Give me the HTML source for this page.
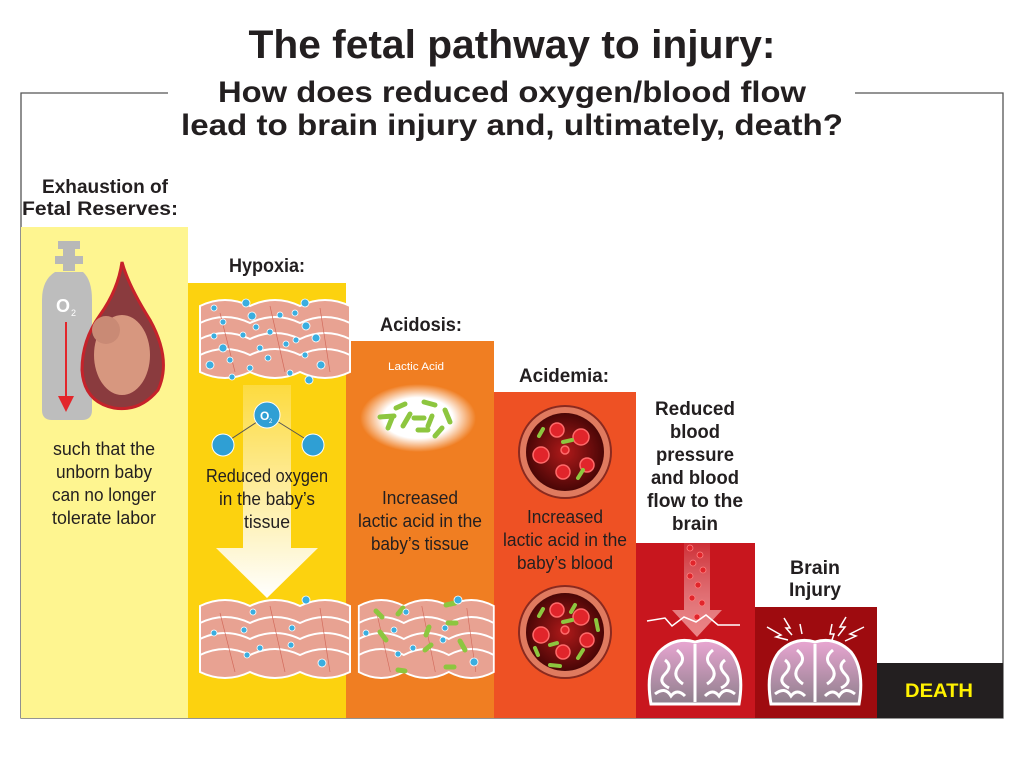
<!DOCTYPE html>
<html><head><meta charset="utf-8"><style>
html,body{margin:0;padding:0;background:#fff;width:1024px;height:768px;overflow:hidden}
svg{display:block}
text{font-family:"Liberation Sans Narrow","Liberation Sans",sans-serif;fill:#231f20}
.b{font-weight:bold}
</style></head><body>
<svg width="1024" height="768" viewBox="0 0 1024 768" xmlns="http://www.w3.org/2000/svg">
<defs>
<radialGradient id="glow" cx="50%" cy="50%" r="50%"><stop offset="0.6" stop-color="#fff"/><stop offset="1" stop-color="#fff" stop-opacity="0"/></radialGradient>
<linearGradient id="arr" x1="0" y1="0" x2="0" y2="1"><stop offset="0" stop-color="#fff" stop-opacity="0.2"/><stop offset="1" stop-color="#fff"/></linearGradient>
<linearGradient id="arr2" x1="0" y1="0" x2="0" y2="1"><stop offset="0" stop-color="#fff" stop-opacity="0.1"/><stop offset="1" stop-color="#f4a0a0" stop-opacity="0.8"/></linearGradient>
<linearGradient id="bg" x1="0" y1="0" x2="0" y2="1"><stop offset="0" stop-color="#e9a6d2"/><stop offset="1" stop-color="#8e7f8c"/></linearGradient>
<radialGradient id="vessel" cx="50%" cy="50%" r="50%"><stop offset="0" stop-color="#b01a1a"/><stop offset="1" stop-color="#4a0606"/></radialGradient>
<g id="tissue">
<path d="M0,8 Q25,-4 50,8 Q75,-4 100,8 Q125,-4 150,8 L150,74 Q125,86 100,74 Q75,86 50,74 Q25,86 0,74 Z" fill="#e8a292" stroke="#fff" stroke-width="2"/>
<path d="M0,25 Q25,13 50,25 Q75,13 100,25 Q125,13 150,25 M0,41 Q25,29 50,41 Q75,29 100,41 Q125,29 150,41 M0,57 Q25,45 50,57 Q75,45 100,57 Q125,45 150,57" fill="none" stroke="#fff" stroke-width="2"/>
<path d="M20,15 L35,74 M70,8 L85,74 M120,10 L130,74" stroke="#d26b5c" stroke-width="0.7"/>
</g>
<g id="brain">
<path d="M-44,32 Q-50,-2 -36,-20 Q-20,-36 0,-30 Q20,-36 36,-20 Q50,-2 44,32 Z" fill="url(#bg)" stroke="#fff" stroke-width="3"/>
<path d="M0,-28 L0,30 M-30,-12 q8,6 0,14 q-8,8 4,14 M-18,-22 q10,8 2,16 q-8,10 4,18 M18,-22 q-10,8 -2,16 q8,10 -4,18 M30,-12 q-8,6 0,14 q8,8 -4,14 M-40,22 q10,-8 16,2 q6,-8 14,0 M40,22 q-10,-8 -16,2 q-6,-8 -14,0" fill="none" stroke="#fff" stroke-width="3"/>
</g>
</defs>

<path d="M168,93 H21 V718 H1003 V93 H855" fill="none" stroke="#555" stroke-width="1.3"/>

<rect x="21" y="227" width="167" height="491" fill="#fef590"/>
<rect x="188" y="283" width="158" height="435" fill="#fcd20f"/>
<rect x="346" y="341" width="148" height="377" fill="#f07e22"/>
<rect x="494" y="392" width="142" height="326" fill="#ee5124"/>
<rect x="636" y="543" width="119" height="175" fill="#c8161e"/>
<rect x="755" y="607" width="122" height="111" fill="#9e0b0f"/>
<rect x="877" y="663" width="126" height="55" fill="#231f20"/>

<text x="512" y="58" text-anchor="middle" class="b" font-size="40" textLength="527" lengthAdjust="spacingAndGlyphs">The fetal pathway to injury:</text>
<text x="512" y="102" text-anchor="middle" class="b" font-size="30" textLength="588" lengthAdjust="spacingAndGlyphs">How does reduced oxygen/blood flow</text>
<text x="512" y="135" text-anchor="middle" class="b" font-size="30" textLength="662" lengthAdjust="spacingAndGlyphs">lead to brain injury and, ultimately, death?</text>

<text x="105" y="193" text-anchor="middle" class="b" font-size="19" textLength="126" lengthAdjust="spacingAndGlyphs">Exhaustion of</text>
<text x="100" y="215" text-anchor="middle" class="b" font-size="19" textLength="156" lengthAdjust="spacingAndGlyphs">Fetal Reserves:</text>
<rect x="58" y="241" width="22" height="8" fill="#b8b8b8"/><rect x="63" y="249" width="12" height="22" fill="#b8b8b8"/><rect x="55" y="256" width="28" height="8" fill="#b8b8b8"/>
<path d="M55,272 H83 Q92,280 92,300 V410 Q92,420 82,420 H52 Q42,420 42,410 V300 Q42,280 55,272Z" fill="#bdbdbd"/>
<text x="56" y="312" font-size="18" class="b" style="fill:#fff">O</text><text x="71" y="316" font-size="9" style="fill:#fff">2</text>
<line x1="66" y1="322" x2="66" y2="398" stroke="#e3262b" stroke-width="2"/><path d="M58,396 H74 L66,412Z" fill="#e3262b"/>
<path d="M122,262 Q128,285 150,320 Q172,360 158,390 Q140,412 114,408 Q84,402 82,370 Q82,340 100,315 Q118,290 122,262Z" fill="#8a3b3e" stroke="#c6222a" stroke-width="3"/>
<ellipse cx="122" cy="355" rx="28" ry="40" fill="#d7977f"/>
<circle cx="106" cy="330" r="14" fill="#c98a75"/>
<text x="104" y="455" text-anchor="middle" font-size="18" textLength="102" lengthAdjust="spacingAndGlyphs">such that the</text>
<text x="104" y="478" text-anchor="middle" font-size="18" textLength="96" lengthAdjust="spacingAndGlyphs">unborn baby</text>
<text x="104" y="501" text-anchor="middle" font-size="18" textLength="104" lengthAdjust="spacingAndGlyphs">can no longer</text>
<text x="104" y="524" text-anchor="middle" font-size="18" textLength="104" lengthAdjust="spacingAndGlyphs">tolerate labor</text>

<text x="267" y="272" text-anchor="middle" class="b" font-size="19" textLength="76" lengthAdjust="spacingAndGlyphs">Hypoxia:</text>
<use href="#tissue" x="200" y="298"/>
<g fill="#3aaee0" stroke="#fff" stroke-width="0.8">
<circle cx="246" cy="303" r="4"/><circle cx="305" cy="303" r="4"/><circle cx="214" cy="308" r="3"/><circle cx="252" cy="316" r="4"/><circle cx="280" cy="315" r="3"/><circle cx="295" cy="313" r="3"/><circle cx="223" cy="322" r="3"/><circle cx="256" cy="327" r="3"/><circle cx="306" cy="326" r="4"/><circle cx="214" cy="336" r="3"/><circle cx="243" cy="335" r="3"/><circle cx="270" cy="332" r="3"/><circle cx="296" cy="340" r="3"/><circle cx="316" cy="338" r="4"/><circle cx="223" cy="348" r="4"/><circle cx="260" cy="348" r="3"/><circle cx="286" cy="344" r="3"/><circle cx="305" cy="355" r="3"/><circle cx="230" cy="360" r="3"/><circle cx="268" cy="358" r="3"/><circle cx="210" cy="365" r="4"/><circle cx="321" cy="365" r="4"/><circle cx="250" cy="368" r="3"/><circle cx="290" cy="373" r="3"/><circle cx="309" cy="380" r="4"/><circle cx="232" cy="377" r="3"/>
</g>
<path d="M243,385 H291 V548 H318 L267,598 L216,548 H243Z" fill="url(#arr)"/>
<line x1="225" y1="443" x2="263" y2="418" stroke="#555"/><line x1="312" y1="443" x2="272" y2="418" stroke="#555"/>
<circle cx="267" cy="415" r="13" fill="#2f9fd4" stroke="#fff"/><text x="260" y="420" font-size="12" class="b" style="fill:#fff">O</text><text x="269" y="423" font-size="6" style="fill:#fff">2</text>
<circle cx="223" cy="445" r="11" fill="#2f9fd4" stroke="#fff"/><circle cx="313" cy="445" r="11" fill="#2f9fd4" stroke="#fff"/>
<text x="267" y="482" text-anchor="middle" font-size="18" textLength="122" lengthAdjust="spacingAndGlyphs">Reduced oxygen</text>
<text x="267" y="505" text-anchor="middle" font-size="18" textLength="96" lengthAdjust="spacingAndGlyphs">in the baby’s</text>
<text x="267" y="528" text-anchor="middle" font-size="18" textLength="46" lengthAdjust="spacingAndGlyphs">tissue</text>
<use href="#tissue" x="200" y="598"/>
<g fill="#3aaee0" stroke="#fff" stroke-width="0.8"><circle cx="306" cy="600" r="4"/><circle cx="253" cy="612" r="3"/><circle cx="292" cy="628" r="3"/><circle cx="244" cy="630" r="3"/><circle cx="214" cy="633" r="3"/><circle cx="291" cy="645" r="3"/><circle cx="260" cy="648" r="3"/><circle cx="247" cy="655" r="3"/><circle cx="322" cy="663" r="4"/></g>

<text x="421" y="331" text-anchor="middle" class="b" font-size="19" textLength="82" lengthAdjust="spacingAndGlyphs">Acidosis:</text>
<text x="416" y="370" text-anchor="middle" font-size="11" style="fill:#fff" textLength="56" lengthAdjust="spacingAndGlyphs">Lactic Acid</text>
<ellipse cx="418" cy="418" rx="58" ry="34" fill="url(#glow)"/>
<g stroke="#8dc63f" stroke-width="5" stroke-linecap="round"><line x1="380" y1="417" x2="394" y2="416"/><line x1="396" y1="408" x2="405" y2="404"/><line x1="388" y1="428" x2="392" y2="418"/><line x1="403" y1="426" x2="410" y2="414"/><line x1="424" y1="402" x2="435" y2="405"/><line x1="414" y1="418" x2="424" y2="418"/><line x1="432" y1="416" x2="428" y2="426"/><line x1="418" y1="430" x2="428" y2="430"/><line x1="445" y1="410" x2="450" y2="422"/><line x1="435" y1="436" x2="442" y2="428"/></g>
<text x="420" y="504" text-anchor="middle" font-size="18" textLength="76" lengthAdjust="spacingAndGlyphs">Increased</text>
<text x="420" y="527" text-anchor="middle" font-size="18" textLength="124" lengthAdjust="spacingAndGlyphs">lactic acid in the</text>
<text x="420" y="550" text-anchor="middle" font-size="18" textLength="98" lengthAdjust="spacingAndGlyphs">baby’s tissue</text>
<use href="#tissue" x="352" y="598" transform="translate(420 637) scale(0.9 1) translate(-420 -637)"/>
<g stroke="#8dc63f" stroke-width="5" stroke-linecap="round"><line x1="376" y1="611" x2="382" y2="617"/><line x1="398" y1="614" x2="403" y2="608"/><line x1="446" y1="605" x2="455" y2="603"/><line x1="448" y1="623" x2="456" y2="623"/><line x1="380" y1="632" x2="386" y2="640"/><line x1="426" y1="635" x2="429" y2="627"/><line x1="425" y1="650" x2="431" y2="645"/><line x1="460" y1="641" x2="465" y2="650"/><line x1="398" y1="670" x2="405" y2="671"/><line x1="446" y1="667" x2="454" y2="667"/></g>
<g fill="#3aaee0" stroke="#fff" stroke-width="0.8"><circle cx="458" cy="600" r="4"/><circle cx="406" cy="612" r="3"/><circle cx="366" cy="633" r="3"/><circle cx="394" cy="630" r="3"/><circle cx="445" cy="628" r="3"/><circle cx="413" cy="648" r="3"/><circle cx="443" cy="640" r="3"/><circle cx="398" cy="654" r="3"/><circle cx="474" cy="662" r="4"/></g>

<text x="564" y="382" text-anchor="middle" class="b" font-size="19" textLength="90" lengthAdjust="spacingAndGlyphs">Acidemia:</text>
<g>
<circle cx="565" cy="452" r="46" fill="#e07a5f" stroke="#8a2a1f" stroke-width="2"/>
<circle cx="565" cy="452" r="39" fill="url(#vessel)"/>
<g fill="#e1252b" stroke="#ff6a6a" stroke-width="1.5"><circle cx="557" cy="430" r="7"/><circle cx="581" cy="437" r="8"/><circle cx="541" cy="455" r="8"/><circle cx="587" cy="465" r="7"/><circle cx="563" cy="472" r="7"/><circle cx="565" cy="450" r="4"/></g>
<g stroke="#8dc63f" stroke-width="4" stroke-linecap="round"><line x1="539" y1="436" x2="543" y2="429"/><line x1="563" y1="442" x2="572" y2="440"/><line x1="578" y1="478" x2="583" y2="470"/></g>
</g>
<g transform="translate(0 180)">
<circle cx="565" cy="452" r="46" fill="#e07a5f" stroke="#8a2a1f" stroke-width="2"/>
<circle cx="565" cy="452" r="39" fill="url(#vessel)"/>
<g fill="#e1252b" stroke="#ff6a6a" stroke-width="1.5"><circle cx="557" cy="430" r="7"/><circle cx="581" cy="437" r="8"/><circle cx="541" cy="455" r="8"/><circle cx="587" cy="460" r="7"/><circle cx="563" cy="472" r="7"/><circle cx="565" cy="450" r="4"/></g>
<g stroke="#8dc63f" stroke-width="4" stroke-linecap="round"><line x1="539" y1="436" x2="543" y2="429"/><line x1="563" y1="442" x2="572" y2="440"/><line x1="578" y1="478" x2="583" y2="470"/><line x1="571" y1="432" x2="575" y2="425"/><line x1="550" y1="465" x2="557" y2="463"/><line x1="596" y1="440" x2="598" y2="450"/><line x1="550" y1="485" x2="560" y2="486"/><line x1="535" y1="468" x2="538" y2="475"/></g>
</g>
<text x="565" y="523" text-anchor="middle" font-size="18" textLength="76" lengthAdjust="spacingAndGlyphs">Increased</text>
<text x="565" y="546" text-anchor="middle" font-size="18" textLength="124" lengthAdjust="spacingAndGlyphs">lactic acid in the</text>
<text x="565" y="569" text-anchor="middle" font-size="18" textLength="96" lengthAdjust="spacingAndGlyphs">baby’s blood</text>

<g font-size="19" text-anchor="middle">
<text x="695" y="415" class="b" textLength="80" lengthAdjust="spacingAndGlyphs">Reduced</text>
<text x="695" y="438" class="b" textLength="50" lengthAdjust="spacingAndGlyphs">blood</text>
<text x="695" y="461" class="b" textLength="78" lengthAdjust="spacingAndGlyphs">pressure</text>
<text x="695" y="484" class="b" textLength="88" lengthAdjust="spacingAndGlyphs">and blood</text>
<text x="695" y="507" class="b" textLength="96" lengthAdjust="spacingAndGlyphs">flow to the</text>
<text x="695" y="530" class="b" textLength="46" lengthAdjust="spacingAndGlyphs">brain</text>
<text x="815" y="574" class="b" textLength="50" lengthAdjust="spacingAndGlyphs">Brain</text>
<text x="815" y="596" class="b" textLength="52" lengthAdjust="spacingAndGlyphs">Injury</text>
</g>
<path d="M684,543 H710 V610 H722 L697,637 L672,610 H684Z" fill="url(#arr2)"/>
<g fill="#e1252b" stroke="#ff8080" stroke-width="0.8"><circle cx="690" cy="548" r="3"/><circle cx="700" cy="555" r="3"/><circle cx="693" cy="563" r="3"/><circle cx="703" cy="570" r="3"/><circle cx="690" cy="576" r="3"/><circle cx="698" cy="585" r="3"/><circle cx="692" cy="598" r="3"/><circle cx="702" cy="603" r="3"/><circle cx="697" cy="617" r="3"/></g>
<path d="M647,621 L665,618 L672,626 L684,617 L696,622 L706,615 L718,625 L740,625" fill="none" stroke="#fff" stroke-width="1.5"/>
<use href="#brain" x="695" y="672"/>
<use href="#brain" x="815" y="672"/>
<g fill="none" stroke="#fff" stroke-width="1.5"><path d="M767,627 L781,635 L776,637 L788,640"/><path d="M784,618 L790,628 L786,628 L792,635"/><path d="M800,624 L802,634"/><path d="M832,624 L830,634 L834,634 L832,640"/><path d="M846,617 L840,627 L845,627 L838,636"/><path d="M864,627 L850,634 L856,636 L845,641"/></g>

<text x="939" y="697" text-anchor="middle" class="b" font-size="19" style="fill:#fff200" textLength="68" lengthAdjust="spacingAndGlyphs" font-family="Liberation Sans">DEATH</text>
</svg>
</body></html>
